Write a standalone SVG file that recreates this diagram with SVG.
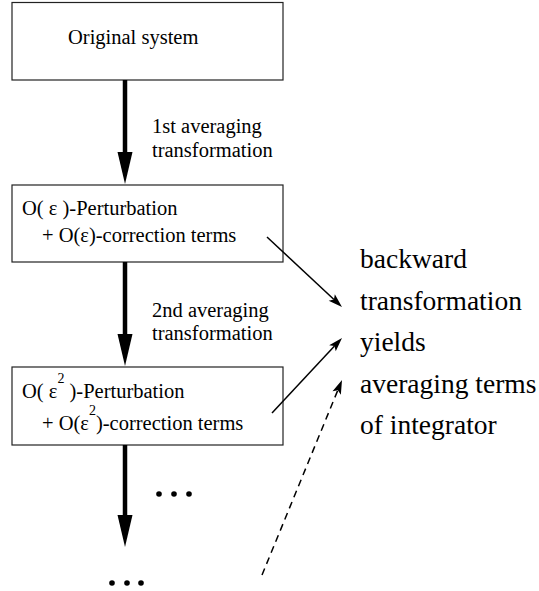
<svg xmlns="http://www.w3.org/2000/svg" width="539" height="591" viewBox="0 0 539 591">
  <style>
    .box { fill: #ffffff; stroke: #222222; stroke-width: 1.2; }
    text { font-family: "Liberation Serif", Tinos, "Times New Roman", Times, "Nimbus Roman", "Nimbus Roman No9 L", FreeSerif, "Noto Serif", "DejaVu Serif", serif; fill: #000000; }
    .t { font-size: 20.5px; }
    .big { font-size: 27.5px; }
    .thick { stroke: #000000; stroke-width: 4.5; fill: none; }
    .thin { stroke: #000000; stroke-width: 1.5; fill: none; }
    .dash { stroke-dasharray: 7 5; }
  </style>
  <defs>
    <marker id="bighead" markerUnits="userSpaceOnUse" markerWidth="34" markerHeight="16" refX="0" refY="7.5" orient="auto" viewBox="0 0 34 16" overflow="visible">
      <path d="M0,0 L32,7.5 L0,15 Z" fill="#000000"/>
    </marker>
    <marker id="barb" markerUnits="userSpaceOnUse" markerWidth="16" markerHeight="10" refX="3" refY="4.5" orient="auto" viewBox="0 0 16 10" overflow="visible">
      <path d="M0,0 L14,4.5 L0,9 L3,4.5 Z" fill="#000000"/>
    </marker>
  </defs>

  <rect width="539" height="591" fill="#ffffff"/>

  <!-- boxes -->
  <g id="original">
    <rect class="box" x="12" y="2.5" width="271" height="77.5"/>
    <text class="t" x="68" y="44">Original system</text>
  </g>

  <g id="first-order">
    <rect class="box" x="12" y="185" width="271" height="77"/>
    <text class="t" x="22" y="215">O( ε )-Perturbation</text>
    <text class="t" x="42" y="242">+ O(ε)-correction terms</text>
  </g>

  <g id="second-order">
    <rect class="box" x="12" y="367" width="271" height="78"/>
    <text class="t" x="22" y="398">O( ε<tspan font-size="14" dy="-15">2</tspan><tspan dy="15"> )-Perturbation</tspan></text>
    <text class="t" x="42" y="430">+ O(ε<tspan font-size="14" dy="-15">2</tspan><tspan dy="15">)-correction terms</tspan></text>
  </g>

  <g id="result">
    <text class="big" x="360" y="268">backward</text>
    <text class="big" x="360" y="309.5">transformation</text>
    <text class="big" x="360" y="351">yields</text>
    <text class="big" x="360" y="392.5">averaging terms</text>
    <text class="big" x="360" y="434">of integrator</text>
  </g>

  <g id="step-labels">
    <text class="t" x="152" y="133">1st averaging</text>
    <text class="t" x="152" y="157">transformation</text>
    <text class="t" x="152" y="317">2nd averaging</text>
    <text class="t" x="152" y="340">transformation</text>
  </g>

  <g id="ellipses" fill="#000000">
    <circle cx="159" cy="494" r="2.8"/>
    <circle cx="174" cy="494" r="2.8"/>
    <circle cx="189" cy="494" r="2.8"/>
    <circle cx="112" cy="583" r="2.8"/>
    <circle cx="127" cy="583" r="2.8"/>
    <circle cx="141" cy="583" r="2.8"/>
  </g>

  <!-- connectors -->
  <g id="connectors">
    <line class="thick" x1="125" y1="80" x2="125" y2="152" marker-end="url(#bighead)"/>
    <line class="thick" x1="125" y1="262" x2="125" y2="334" marker-end="url(#bighead)"/>
    <line class="thick" x1="125" y1="445" x2="125" y2="515" marker-end="url(#bighead)"/>
    <line class="thin" x1="267" y1="237" x2="333.96" y2="299.5" marker-end="url(#barb)"/>
    <line class="thin" x1="272" y1="413" x2="334.5" y2="346.04" marker-end="url(#barb)"/>
    <line class="thin dash" x1="262" y1="575" x2="337.83" y2="390.18" marker-end="url(#barb)"/>
  </g>
</svg>
